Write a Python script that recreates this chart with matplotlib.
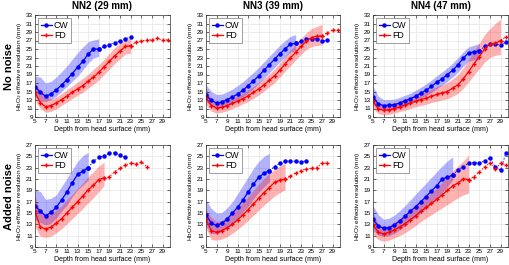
import matplotlib
matplotlib.use('Agg')
import matplotlib.pyplot as plt
import numpy as np

# 深度 (mm)
depth = np.arange(5, 31)

titles = ['NN2 (29 mm)', 'NN3 (39 mm)', 'NN4 (47 mm)']
row_labels = ['No noise', 'Added noise']

# ---- No noise ----
nn2_cw = [16.1, 14.8, 13.9, 14.4, 15.4, 16.5, 17.8, 19.2, 20.7, 22.1, 23.8, 25.0, 25.0,
          25.6, 26.0, 26.5, 26.8, 27.4, 27.8]
nn2_cw_hi = [18.6, 18.4, 17.0, 17.4, 18.4, 19.7, 21.0, 22.6, 24.1, 25.5, 26.7, 27.1, 27.4]
nn2_cw_lo = [13.9, 12.7, 12.7, 13.1, 13.9, 15.0, 16.2, 17.4, 18.6, 20.1, 21.7, 22.9, 23.3]
nn2_fd = [14.8, 12.4, 11.4, 11.7, 12.3, 13.1, 13.9, 14.8, 15.6, 16.4, 17.4, 18.4, 19.5,
          20.8, 22.1, 23.4, 24.5, 25.6, 25.8, 26.6, 26.9, 27.1, 27.2, 27.5, 27.1, 27.2]
nn2_fd_hi = [17.0, 15.4, 13.9, 13.2, 13.7, 14.5, 15.4, 16.3, 17.2, 18.1, 19.1, 20.2, 21.3,
             22.6, 24.0, 25.3, 26.4, 27.2, 27.6]
nn2_fd_lo = [13.0, 11.0, 10.1, 10.3, 10.9, 11.7, 12.5, 13.3, 14.1, 14.8, 15.8, 16.7, 17.7,
             19.0, 20.3, 21.6, 22.7, 23.8, 24.0]

nn3_cw = [14.2, 12.9, 12.3, 12.5, 13.1, 13.7, 14.4, 15.3, 16.4, 17.5, 18.7, 20.0, 21.3,
          22.6, 23.9, 25.0, 26.2, 26.3, 26.8, 27.4, 27.4, 27.4, 26.8, 27.2]
nn3_cw_hi = [16.6, 15.0, 14.3, 14.4, 14.9, 15.6, 16.4, 17.3, 18.4, 19.5, 20.7, 22.0, 23.3,
             24.6, 25.9, 27.0, 28.0, 28.4]
nn3_cw_lo = [12.7, 11.6, 11.3, 11.4, 11.8, 12.3, 12.9, 13.7, 14.7, 15.7, 16.9, 18.1, 19.4,
             20.7, 22.0, 23.1, 24.3, 24.6]
nn3_fd = [13.5, 11.7, 11.1, 11.3, 11.7, 12.2, 12.7, 13.3, 14.0, 14.8, 15.6, 16.6, 17.6,
          18.7, 20.0, 21.5, 22.9, 24.2, 25.6, 26.8, 27.7, 28.0, 28.1, 28.8, 29.5, 29.5]
nn3_fd_hi = [15.8, 13.1, 12.4, 12.5, 12.9, 13.4, 14.0, 14.6, 15.4, 16.2, 17.1, 18.1, 19.1,
             20.3, 21.7, 23.2, 24.7, 26.0, 27.5, 28.8, 29.8, 30.3, 30.8]
nn3_fd_lo = [11.9, 10.4, 9.9, 10.1, 10.5, 11.0, 11.5, 12.1, 12.7, 13.4, 14.2, 15.1, 16.1,
             17.1, 18.4, 19.8, 21.1, 22.4, 23.7, 24.9, 25.6, 25.8, 26.0]

nn4_cw = [13.7, 12.1, 11.7, 11.8, 11.9, 12.3, 12.8, 13.3, 13.9, 14.6, 15.3, 16.2, 17.2,
          18.0, 19.0, 20.0, 21.3, 22.9, 24.1, 24.3, 24.6, 25.6, 26.2, 26.2, 25.9, 26.6]
nn4_cw_hi = [16.2, 13.9, 13.1, 13.1, 13.2, 13.6, 14.1, 14.6, 15.3, 16.0, 16.8, 17.7, 18.7,
             19.6, 20.6, 21.7, 23.0, 24.4, 25.5, 25.9, 26.3]
nn4_cw_lo = [12.0, 10.9, 10.7, 10.7, 10.8, 11.1, 11.6, 12.1, 12.6, 13.3, 14.0, 14.8, 15.7,
             16.5, 17.4, 18.4, 19.6, 21.0, 22.2, 22.4, 22.5]
nn4_fd = [12.7, 10.9, 10.6, 10.7, 11.0, 11.4, 11.8, 12.3, 12.7, 13.1, 13.4, 13.9, 14.3,
          14.7, 15.0, 15.8, 16.6, 18.0, 19.7, 21.5, 23.2, 25.0, 26.2, 26.3, 27.0, 27.9]
nn4_fd_hi = [14.6, 12.2, 11.8, 11.9, 12.2, 12.6, 13.1, 13.6, 14.1, 14.6, 15.0, 15.6, 16.1,
             16.6, 17.1, 18.0, 19.0, 20.6, 22.5, 24.5, 26.4, 28.4, 29.8, 31.0, 32.0]
nn4_fd_lo = [11.0, 9.8, 9.5, 9.6, 9.9, 10.3, 10.6, 11.0, 11.4, 11.7, 12.0, 12.4, 12.7,
             13.0, 13.3, 13.9, 14.6, 15.8, 17.3, 18.9, 20.4, 21.9, 23.0, 23.5, 23.7]

# ---- Added noise ----
nn2n_cw = [16.3, 15.3, 14.5, 15.1, 16.0, 17.3, 18.7, 20.3, 21.8, 22.4, 23.0, 24.1, 24.8,
           25.1, 25.6, 25.6, 25.2, 24.8]
nn2n_cw_hi = [19.1, 18.8, 17.4, 17.6, 18.2, 19.7, 21.1, 22.6, 24.1, 25.1, 25.7]
nn2n_cw_lo = [13.8, 13.3, 12.9, 13.2, 14.1, 15.3, 16.4, 17.9, 19.1, 19.9, 20.8]
nn2n_fd = [15.3, 12.5, 12.2, 12.5, 13.2, 14.0, 15.0, 16.0, 17.0, 18.0, 19.1, 19.9, 20.9,
           21.2, 21.4, 22.3, 22.9, 23.5, 23.8, 23.7, 24.0, 23.2]
nn2n_fd_hi = [17.9, 15.3, 14.7, 14.9, 15.5, 16.3, 17.3, 18.3, 19.3, 20.3, 21.4, 22.3, 23.3,
              24.0]
nn2n_fd_lo = [12.6, 10.9, 10.7, 10.9, 11.5, 12.2, 13.1, 14.0, 14.9, 15.8, 16.8, 17.7, 18.8,
              19.8]

nn3n_cw = [14.7, 13.2, 12.8, 13.2, 13.9, 15.0, 16.0, 17.3, 18.7, 20.1, 21.3, 22.0, 22.5,
           23.2, 23.8, 24.1, 24.2, 24.1, 24.0, 24.2]
nn3n_cw_hi = [17.3, 15.8, 15.0, 15.1, 15.9, 17.0, 18.4, 19.9, 21.4, 22.9, 24.1, 25.0, 25.5]
nn3n_cw_lo = [12.7, 11.4, 11.3, 11.7, 12.3, 13.0, 14.0, 15.2, 16.2, 17.5, 18.7, 19.6, 20.5]
nn3n_fd = [13.9, 11.9, 11.6, 11.9, 12.4, 13.0, 13.8, 14.7, 15.6, 16.6, 17.6, 18.6, 19.5,
           20.4, 20.8, 21.0, 21.5, 22.1, 22.5, 22.8, 22.9, 23.0, 23.8, 23.8]
nn3n_fd_hi = [15.6, 14.2, 13.5, 13.7, 14.3, 15.0, 15.9, 16.9, 17.9, 19.0, 20.1, 21.1, 22.0,
              22.7, 23.3, 23.8]
nn3n_fd_lo = [12.3, 10.3, 10.2, 10.4, 10.8, 11.4, 12.1, 12.9, 13.7, 14.6, 15.5, 16.4, 17.2,
              18.0, 18.6, 19.1]

nn4n_cw = [13.9, 12.7, 12.3, 12.4, 12.9, 13.6, 14.4, 15.3, 16.1, 17.0, 17.9, 18.9, 19.8,
           21.0, 21.3, 21.7, 22.6, 23.2, 23.8, 23.9, 23.8, 24.2, 24.7, 23.1, 22.6, 25.6]
nn4n_cw_hi = [16.3, 14.7, 13.9, 14.1, 14.6, 15.4, 16.3, 17.3, 18.3, 19.3, 20.3, 21.3, 22.3,
              23.3, 24.2, 24.9]
nn4n_cw_lo = [12.0, 11.1, 10.9, 11.0, 11.4, 12.0, 12.7, 13.5, 14.2, 15.0, 15.8, 16.7, 17.6,
              18.6, 19.7, 20.8]
nn4n_fd = [12.9, 11.6, 11.3, 11.6, 12.0, 12.5, 13.1, 13.8, 14.5, 15.3, 16.0, 16.7, 17.4,
           18.2, 19.0, 19.8, 20.3, 21.0, 20.9, 21.4, 22.3, 23.1, 23.9, 22.7, 23.8, 23.5]
nn4n_fd_hi = [15.0, 13.1, 12.5, 12.8, 13.3, 13.9, 14.6, 15.4, 16.2, 17.0, 17.8, 18.6, 19.4,
              20.4, 21.4, 22.4, 23.3, 24.2, 25.2]
nn4n_fd_lo = [11.2, 10.3, 10.0, 10.2, 10.6, 11.0, 11.5, 12.1, 12.8, 13.5, 14.1, 14.7, 15.3,
              15.9, 16.5, 17.1, 17.7, 18.2, 18.5]

panels = [
    [(nn2_cw, nn2_cw_hi, nn2_cw_lo, nn2_fd, nn2_fd_hi, nn2_fd_lo),
     (nn3_cw, nn3_cw_hi, nn3_cw_lo, nn3_fd, nn3_fd_hi, nn3_fd_lo),
     (nn4_cw, nn4_cw_hi, nn4_cw_lo, nn4_fd, nn4_fd_hi, nn4_fd_lo)],
    [(nn2n_cw, nn2n_cw_hi, nn2n_cw_lo, nn2n_fd, nn2n_fd_hi, nn2n_fd_lo),
     (nn3n_cw, nn3n_cw_hi, nn3n_cw_lo, nn3n_fd, nn3n_fd_hi, nn3n_fd_lo),
     (nn4n_cw, nn4n_cw_hi, nn4n_cw_lo, nn4n_fd, nn4n_fd_hi, nn4n_fd_lo)],
]

plt.rcParams['font.family'] = ['Liberation Sans', 'DejaVu Sans']

fig = plt.figure(figsize=(5.1, 2.65), dpi=100)

lefts = [35, 206, 373]
widths = [135, 134, 135]
tops = [15, 145]
H = 102


def draw_series(ax, y, hi, lo, color, marker, ms, label):
    n = len(hi)
    x = depth[:len(y)]
    ax.fill_between(depth[:n], lo, hi, color=color, alpha=0.3, lw=0)
    ax.plot(x[:n], y[:n], '-', color=color, marker=marker, ms=ms, lw=0.9, label=label)
    if len(y) > n:
        ax.plot(x[n - 1:], y[n - 1:], '--', color=color, marker=marker, ms=ms, lw=0.6,
                dashes=(2, 2))


for r in range(2):
    for c in range(3):
        ax = fig.add_axes([lefts[c] / 510, 1 - (tops[r] + H) / 265, widths[c] / 510, H / 265])
        cw, cw_hi, cw_lo, fd, fd_hi, fd_lo = panels[r][c]
        draw_series(ax, cw, cw_hi, cw_lo, '#0000ff', 'o', 2.2, 'CW')
        draw_series(ax, fd, fd_hi, fd_lo, '#ff0000', '+', 3.2, 'FD')

        ax.set_xlim(5, 30.4)
        ax.set_xticks(range(5, 30, 2))
        if r == 0:
            ax.set_ylim(9, 33)
            ax.set_yticks(range(9, 34, 2))
        else:
            ax.set_ylim(9, 27)
            ax.set_yticks(range(9, 28, 2))
        ax.grid(True, color='#e6e6e6', lw=0.5)
        ax.set_axisbelow(True)
        ax.tick_params(labelsize=4.6, length=2, width=0.4, direction='in', pad=1.5,
                       top=True, right=True)
        for s in ax.spines.values():
            s.set_linewidth(0.5)
            s.set_color('#333333')
        ax.set_xlabel('Depth from head surface (mm)', fontsize=5, labelpad=1.5)
        ax.set_ylabel('HbO$_2$ effective resolution (mm)', fontsize=4.6, labelpad=1.5)
        leg = ax.legend(loc='upper left', fontsize=6.3, handlelength=1.3, handletextpad=0.2,
                        borderpad=0.3, labelspacing=0.2, borderaxespad=0.35,
                        fancybox=False, framealpha=1)
        leg.get_frame().set_linewidth(0.5)
        leg.get_frame().set_edgecolor('#777777')
        if r == 0:
            ax.set_title(titles[c], fontsize=7, fontweight='bold', pad=4)

fig.text(9 / 510, 1 - 67 / 265, row_labels[0], rotation=90, fontsize=8,
         fontweight='bold', ha='center', va='center')
fig.text(9 / 510, 1 - 197 / 265, row_labels[1], rotation=90, fontsize=8,
         fontweight='bold', ha='center', va='center')

fig.savefig('out.png', dpi=100)
